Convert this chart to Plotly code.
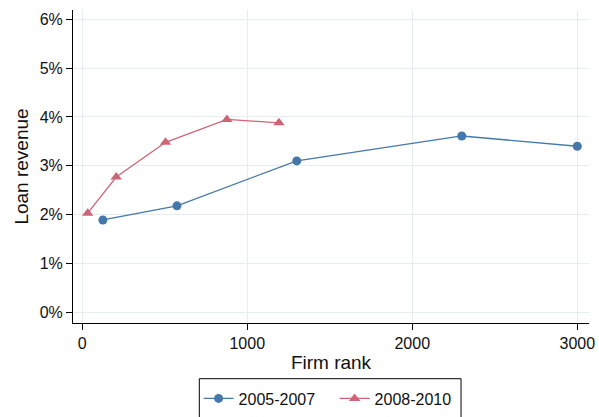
import plotly.graph_objects as go

# Average loan revenue by firm rank, two sample periods
rank_0507 = [125, 574, 1300, 2300, 3000]
rev_0507 = [1.89, 2.18, 3.10, 3.61, 3.40]

rank_0810 = [33, 206, 505, 877, 1192]
rev_0810 = [2.03, 2.77, 3.48, 3.95, 3.88]

y_ticks = [0, 1, 2, 3, 4, 5, 6]
y_labels = [f"{v}%" for v in y_ticks]
x_ticks = [0, 1000, 2000, 3000]

BLUE = "#4477AA"
RED = "#CC6677"
FONT = "Liberation Sans, Arial, Helvetica, sans-serif"

fig = go.Figure()
fig.add_trace(go.Scatter(
    x=rank_0507, y=rev_0507, mode="lines+markers", name="2005-2007",
    line=dict(color=BLUE, width=1.3),
    marker=dict(symbol="circle", size=9, color=BLUE),
))
fig.add_trace(go.Scatter(
    x=rank_0810, y=rev_0810, mode="lines+markers", name="2008-2010",
    line=dict(color=RED, width=1.3),
    marker=dict(symbol="triangle-up", size=10, color=RED),
))

# Frame around the legend, taller than plotly's own legend box
fig.add_shape(
    type="rect", xref="paper", yref="paper",
    x0=0.2448, x1=0.752, y0=-0.33, y1=-0.178,
    line=dict(color="black", width=1), fillcolor="rgba(0,0,0,0)",
    layer="above",
)

fig.update_layout(
    width=599, height=417,
    margin=dict(l=73, r=10, t=10, b=94, autoexpand=False),
    paper_bgcolor="white", plot_bgcolor="white",
    font=dict(family=FONT, size=16, color="#111"),
    showlegend=True,
    legend=dict(
        orientation="h", x=0.507, xanchor="center", y=-0.187, yanchor="top",
        borderwidth=0, font=dict(size=16), bgcolor="rgba(0,0,0,0)",
        itemwidth=30, tracegroupgap=0,
        entrywidth=91,
    ),
    xaxis=dict(
        range=[-56, 3071], tickvals=x_ticks, ticktext=[str(v) for v in x_ticks],
        showline=True, linecolor="black", linewidth=1,
        ticks="outside", ticklen=6, tickcolor="black",
        showgrid=True, gridcolor="#e6edef", gridwidth=1, zeroline=False,
        automargin=False,
        title=dict(text="Firm rank", standoff=4),
    ),
    yaxis=dict(
        range=[-0.22, 6.19], tickvals=y_ticks, ticktext=y_labels,
        showline=True, linecolor="black", linewidth=1,
        ticks="outside", ticklen=6, tickcolor="black",
        showgrid=True, gridcolor="#e6edef", gridwidth=1, zeroline=False,
        automargin=False,
        title=dict(text="Loan revenue", standoff=6),
    ),
)

fig.write_html("out.html")
